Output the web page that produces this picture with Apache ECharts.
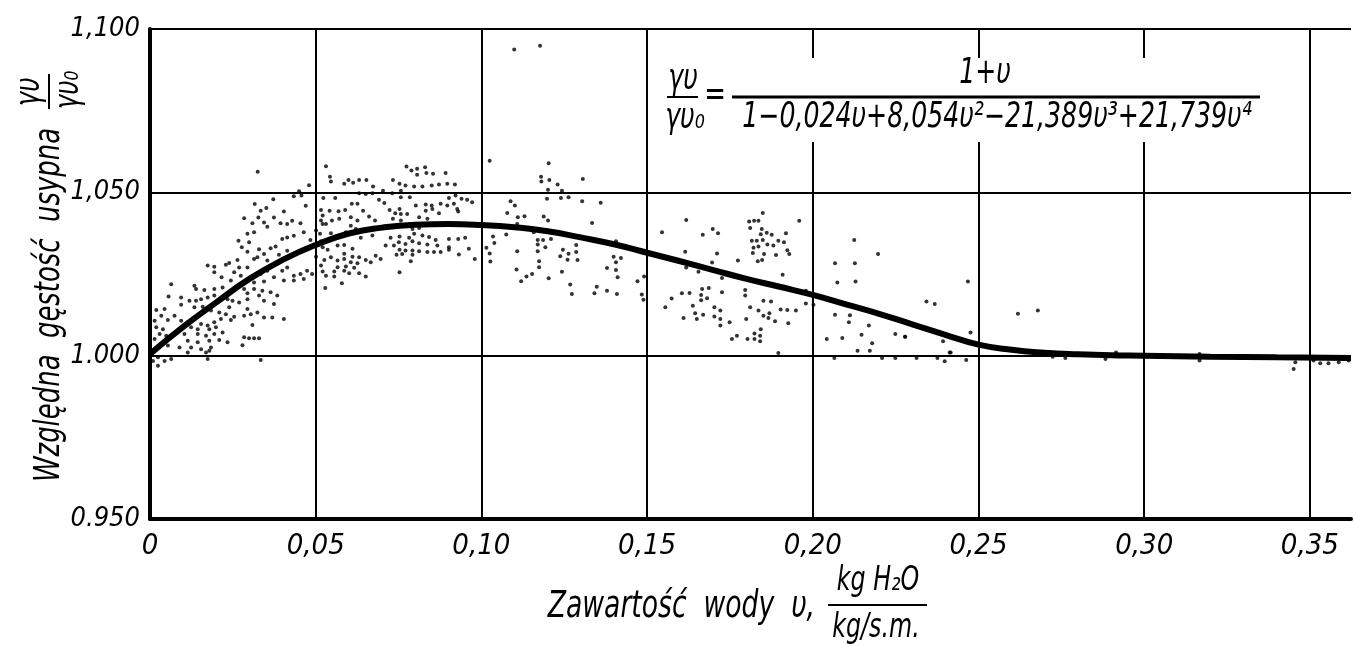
<!DOCTYPE html>
<html>
<head>
<meta charset="utf-8">
<title>Względna gęstość usypna</title>
<script src="https://cdn.jsdelivr.net/npm/echarts/dist/echarts.min.js"></script>
<style>
  html, body { margin: 0; padding: 0; background: #fff; overflow: hidden; }
  #main { width: 1354px; height: 646px; }
</style>
</head>
<body>
<div id="main"></div>
<script>
// tick labels as printed on the figure
var xTickLabels = ['0', '0,05', '0,10', '0,15', '0,20', '0,25', '0,30', '0,35'];
var yTickLabels = ['0.950', '1.000', '1,050', '1,100'];

// fitted curve
var curveU = [0, 0.01, 0.02, 0.03, 0.04, 0.05, 0.06, 0.07, 0.08, 0.09, 0.10, 0.11, 0.12, 0.13, 0.14, 0.15, 0.16, 0.17,
  0.18, 0.19, 0.20, 0.21, 0.22, 0.23, 0.24, 0.25, 0.26, 0.27, 0.28, 0.29, 0.30, 0.32, 0.34, 0.3624];
var curveY = [1.0005, 1.0088, 1.0163, 1.0235, 1.0293, 1.0339, 1.0374, 1.0392, 1.0401, 1.0403, 1.0400, 1.0393, 1.0381,
  1.0362, 1.0341, 1.0315, 1.0289, 1.0262, 1.0235, 1.0211, 1.0186, 1.0157, 1.0128, 1.0096, 1.0064, 1.0034, 1.0018,
  1.0009, 1.0004, 1.0001, 1.0000, 0.9997, 0.9995, 0.9993];

// measured points [u, gamma/gamma0]
var dotPoints = [
  // 0 - 0,05
  [0.0325,1.0563],[0.0480,1.0522],[0.0450,1.0503],[0.0434,1.0488],[0.0457,1.0490],[0.0316,1.0464],[0.0372,1.0479],
  [0.0470,1.0459],[0.0334,1.0444],[0.0351,1.0452],[0.0404,1.0441],[0.0284,1.0421],[0.0327,1.0423],[0.0374,1.0423],
  [0.0344,1.0408],[0.0394,1.0405],[0.0414,1.0403],[0.0429,1.0413],[0.0454,1.0405],[0.0309,1.0405],[0.0354,1.0395],
  [0.0464,1.0378],[0.0294,1.0373],[0.0314,1.0378],[0.0267,1.0352],[0.0299,1.0347],[0.0399,1.0357],[0.0414,1.0362],
  [0.0434,1.0367],[0.0484,1.0354],[0.0277,1.0332],[0.0294,1.0318],[0.0329,1.0326],[0.0344,1.0311],[0.0364,1.0329],
  [0.0379,1.0334],[0.0389,1.0309],[0.0414,1.0321],[0.0314,1.0296],[0.0324,1.0301],[0.0264,1.0293],[0.0354,1.0291],
  [0.0239,1.0284],[0.0269,1.0270],[0.0294,1.0270],[0.0174,1.0276],[0.0194,1.0272],[0.0229,1.0278],[0.0194,1.0255],
  [0.0254,1.0255],[0.0274,1.0245],[0.0334,1.0250],[0.0354,1.0260],[0.0399,1.0260],[0.0414,1.0270],[0.0434,1.0245],
  [0.0454,1.0250],[0.0474,1.0260],[0.0489,1.0250],[0.0216,1.0240],[0.0244,1.0230],[0.0294,1.0230],[0.0314,1.0224],
  [0.0344,1.0227],[0.0374,1.0240],[0.0404,1.0230],[0.0434,1.0230],[0.0464,1.0235],[0.0064,1.0219],[0.0134,1.0214],
  [0.0139,1.0204],[0.0164,1.0201],[0.0194,1.0204],[0.0219,1.0209],[0.0259,1.0211],[0.0284,1.0204],[0.0294,1.0191],
  [0.0314,1.0204],[0.0339,1.0199],[0.0364,1.0194],[0.0384,1.0184],[0.0329,1.0184],[0.0056,1.0181],[0.0094,1.0178],
  [0.0119,1.0168],[0.0139,1.0168],[0.0154,1.0173],[0.0174,1.0178],[0.0194,1.0184],[0.0234,1.0173],[0.0249,1.0168],
  [0.0269,1.0163],[0.0294,1.0173],[0.0344,1.0168],[0.0374,1.0158],[0.0094,1.0156],[0.0134,1.0148],[0.0159,1.0150],
  [0.0239,1.0148],[0.0294,1.0143],[0.0044,1.0143],[0.0019,1.0140],[0.0184,1.0138],[0.0209,1.0132],[0.0229,1.0127],
  [0.0284,1.0122],[0.0304,1.0127],[0.0324,1.0132],[0.0344,1.0117],[0.0369,1.0117],[0.0404,1.0112],[0.0254,1.0119],
  [0.0034,1.0122],[0.0074,1.0122],[0.0014,1.0107],[0.0054,1.0109],[0.0094,1.0107],[0.0114,1.0102],[0.0154,1.0097],
  [0.0174,1.0092],[0.0194,1.0102],[0.0214,1.0112],[0.0244,1.0109],[0.0309,1.0094],[0.0019,1.0087],[0.0039,1.0081],
  [0.0124,1.0087],[0.0144,1.0081],[0.0179,1.0081],[0.0199,1.0087],[0.0029,1.0066],[0.0049,1.0061],[0.0104,1.0066],
  [0.0144,1.0066],[0.0169,1.0061],[0.0194,1.0066],[0.0219,1.0071],[0.0014,1.0051],[0.0114,1.0046],[0.0144,1.0041],
  [0.0179,1.0046],[0.0209,1.0048],[0.0234,1.0041],[0.0284,1.0056],[0.0299,1.0053],[0.0314,1.0053],[0.0329,1.0053],
  [0.0054,1.0031],[0.0089,1.0025],[0.0124,1.0025],[0.0154,1.0020],[0.0184,1.0025],[0.0279,1.0032],[0.0014,1.0015],
  [0.0114,1.0010],[0.0169,1.0010],[0.0179,1.0015],[0.0024,0.9995],[0.0044,0.9984],[0.0064,0.9990],[0.0024,0.9969],
  [0.0174,0.9990],[0.0334,0.9987],[0.0009,0.9984],
  // 0,05 - 0,10
  [0.0531,1.0580],[0.0543,1.0548],[0.0546,1.0533],[0.0586,1.0526],[0.0599,1.0538],[0.0613,1.0529],[0.0631,1.0538],
  [0.0653,1.0538],[0.0673,1.0518],[0.0733,1.0538],[0.0753,1.0526],[0.0774,1.0579],[0.0789,1.0567],[0.0806,1.0572],
  [0.0830,1.0577],[0.0806,1.0554],[0.0834,1.0559],[0.0854,1.0557],[0.0892,1.0559],[0.0771,1.0521],[0.0797,1.0518],
  [0.0822,1.0518],[0.0850,1.0521],[0.0872,1.0524],[0.0897,1.0526],[0.0920,1.0524],[0.0631,1.0497],[0.0651,1.0495],
  [0.0671,1.0497],[0.0703,1.0505],[0.0731,1.0497],[0.0757,1.0505],[0.0922,1.0490],[0.0523,1.0483],[0.0559,1.0483],
  [0.0691,1.0477],[0.0757,1.0485],[0.0784,1.0485],[0.0902,1.0483],[0.0940,1.0480],[0.0957,1.0477],[0.0972,1.0470],
  [0.0609,1.0465],[0.0626,1.0465],[0.0707,1.0467],[0.0802,1.0460],[0.0832,1.0463],[0.0850,1.0460],[0.0877,1.0465],
  [0.0897,1.0460],[0.0917,1.0465],[0.0516,1.0446],[0.0542,1.0444],[0.0569,1.0442],[0.0589,1.0446],[0.0643,1.0444],
  [0.0723,1.0446],[0.0753,1.0449],[0.0832,1.0444],[0.0852,1.0449],[0.0927,1.0449],[0.0757,1.0434],[0.0776,1.0434],
  [0.0872,1.0436],[0.0930,1.0441],[0.0740,1.0436],[0.0521,1.0429],[0.0606,1.0424],[0.0661,1.0426],[0.0812,1.0424],
  [0.0516,1.0414],[0.0549,1.0414],[0.0571,1.0419],[0.0626,1.0414],[0.0679,1.0414],[0.0733,1.0419],[0.0757,1.0414],
  [0.0837,1.0419],[0.0521,1.0403],[0.0531,1.0403],[0.0606,1.0398],[0.0501,1.0383],[0.0513,1.0373],[0.0546,1.0375],
  [0.0591,1.0378],[0.0621,1.0388],[0.0671,1.0368],[0.0726,1.0361],[0.0753,1.0365],[0.0792,1.0388],[0.0812,1.0391],
  [0.0797,1.0373],[0.0822,1.0368],[0.0842,1.0363],[0.0782,1.0361],[0.0862,1.0354],[0.0902,1.0357],[0.0930,1.0357],
  [0.0951,1.0361],[0.0516,1.0350],[0.0636,1.0361],[0.0711,1.0337],[0.0736,1.0337],[0.0751,1.0347],[0.0771,1.0342],
  [0.0792,1.0350],[0.0812,1.0344],[0.0837,1.0340],[0.0867,1.0337],[0.0902,1.0332],[0.0962,1.0327],[0.0521,1.0332],
  [0.0566,1.0337],[0.0586,1.0339],[0.0611,1.0327],[0.0536,1.0324],[0.0753,1.0324],[0.0771,1.0322],[0.0792,1.0322],
  [0.0812,1.0320],[0.0837,1.0317],[0.0857,1.0317],[0.0877,1.0317],[0.0902,1.0324],[0.0932,1.0310],[0.0586,1.0312],
  [0.0501,1.0303],[0.0546,1.0301],[0.0611,1.0303],[0.0631,1.0301],[0.0681,1.0306],[0.0744,1.0309],[0.0761,1.0311],
  [0.0792,1.0309],[0.0696,1.0296],[0.0980,1.0296],[0.0526,1.0293],[0.0566,1.0291],[0.0586,1.0296],[0.0606,1.0286],
  [0.0626,1.0283],[0.0651,1.0293],[0.0666,1.0286],[0.0787,1.0289],[0.0516,1.0276],[0.0566,1.0271],[0.0591,1.0273],
  [0.0616,1.0269],[0.0521,1.0258],[0.0556,1.0258],[0.0586,1.0260],[0.0601,1.0252],[0.0631,1.0252],[0.0531,1.0245],
  [0.0556,1.0242],[0.0651,1.0242],[0.0753,1.0255],[0.0579,1.0222],[0.0529,1.0207],
  // 0,10 - 0,15
  [0.1025,1.0597],[0.1203,1.0589],[0.1180,1.0548],[0.1181,1.0533],[0.1205,1.0538],[0.1230,1.0524],[0.1306,1.0541],
  [0.1201,1.0508],[0.1243,1.0505],[0.1198,1.0480],[0.1240,1.0483],[0.1263,1.0485],[0.1304,1.0473],[0.1360,1.0468],
  [0.1088,1.0473],[0.1101,1.0460],[0.1078,1.0437],[0.1110,1.0424],[0.1130,1.0427],[0.1188,1.0426],[0.1201,1.0414],
  [0.1108,1.0403],[0.1334,1.0406],[0.1153,1.0388],[0.1158,1.0378],[0.1193,1.0380],[0.1210,1.0357],[0.1035,1.0365],
  [0.1075,1.0371],[0.1039,1.0345],[0.1170,1.0354],[0.1186,1.0354],[0.1406,1.0350],[0.1015,1.0330],[0.1170,1.0340],
  [0.1193,1.0332],[0.1286,1.0339],[0.1025,1.0313],[0.1108,1.0320],[0.1170,1.0320],[0.1246,1.0324],[0.1263,1.0312],
  [0.1286,1.0317],[0.1238,1.0304],[0.1260,1.0294],[0.1290,1.0293],[0.1399,1.0303],[0.1421,1.0299],[0.1027,1.0288],
  [0.1174,1.0289],[0.1406,1.0286],[0.1174,1.0271],[0.1106,1.0264],[0.1243,1.0257],[0.1379,1.0268],[0.1406,1.0262],
  [0.1153,1.0250],[0.1136,1.0242],[0.1411,1.0240],[0.1203,1.0237],[0.1120,1.0228],[0.1491,1.0242],[0.1471,1.0228],
  [0.1268,1.0218],[0.1348,1.0211],[0.1379,1.0199],[0.1273,1.0189],[0.1341,1.0191],[0.1409,1.0189],[0.1484,1.0187],
  [0.1489,1.0171],
  // 0,15 - 0,20
  [0.1618,1.0415],[0.1545,1.0378],[0.1668,1.0370],[0.1698,1.0388],[0.1714,1.0375],[0.1849,1.0437],[0.1808,1.0411],
  [0.1823,1.0413],[0.1836,1.0413],[0.1959,1.0413],[0.1811,1.0391],[0.1846,1.0388],[0.1843,1.0372],[0.1861,1.0376],
  [0.1876,1.0370],[0.1919,1.0375],[0.1816,1.0352],[0.1831,1.0352],[0.1849,1.0354],[0.1863,1.0340],[0.1881,1.0337],
  [0.1896,1.0352],[0.1913,1.0347],[0.1836,1.0334],[0.1821,1.0330],[0.1923,1.0323],[0.1615,1.0318],[0.1711,1.0313],
  [0.1819,1.0314],[0.1853,1.0311],[0.1889,1.0308],[0.1929,1.0311],[0.1834,1.0289],[0.1847,1.0293],[0.1696,1.0285],
  [0.1774,1.0291],[0.1618,1.0270],[0.1655,1.0257],[0.1909,1.0248],[0.1726,1.0238],[0.1979,1.0199],[0.1796,1.0201],
  [0.1666,1.0204],[0.1686,1.0207],[0.1605,1.0191],[0.1628,1.0192],[0.1726,1.0194],[0.1796,1.0184],[0.1663,1.0186],
  [0.1681,1.0176],[0.1574,1.0175],[0.1663,1.0170],[0.1851,1.0168],[0.1874,1.0166],[0.1979,1.0160],[0.1638,1.0153],
  [0.1555,1.0148],[0.1703,1.0148],[0.1811,1.0148],[0.1903,1.0141],[0.1923,1.0140],[0.1949,1.0138],[0.1721,1.0138],
  [0.1836,1.0138],[0.1645,1.0130],[0.1669,1.0125],[0.1703,1.0120],[0.1851,1.0122],[0.1869,1.0130],[0.1610,1.0115],
  [0.1650,1.0112],[0.1721,1.0112],[0.1799,1.0112],[0.1866,1.0115],[0.1886,1.0105],[0.1749,1.0102],[0.1926,1.0099],
  [0.1721,1.0092],[0.1843,1.0081],[0.1824,1.0068],[0.1841,1.0061],[0.1771,1.0061],[0.1756,1.0051],[0.1803,1.0051],
  [0.1824,1.0051],[0.1841,1.0044],[0.1896,1.0008],
  // 0,20 - 0,25
  [0.2125,1.0354],[0.2197,1.0311],[0.2067,1.0283],[0.2127,1.0283],[0.2074,1.0224],[0.2129,1.0227],[0.2468,1.0227],
  [0.2343,1.0166],[0.2368,1.0158],[0.2002,1.0156],[0.2067,1.0125],[0.2112,1.0124],[0.2109,1.0102],[0.2169,1.0092],
  [0.2476,1.0071],[0.2042,1.0051],[0.2089,1.0054],[0.2147,1.0064],[0.2249,1.0066],[0.2279,1.0058],[0.2393,1.0044],
  [0.2179,1.0038],[0.2135,1.0015],[0.2172,1.0015],[0.2416,1.0010],[0.2065,0.9993],[0.2209,0.9993],[0.2249,0.9993],
  [0.2313,0.9993],[0.2376,0.9993],[0.2398,0.9983],[0.2463,0.9987],[0.2278,1.0058],[0.2413,1.0010],
  // 0,25 - 0,36
  [0.2619,1.0128],[0.2679,1.0138],[0.2724,0.9997],[0.2762,0.9993],[0.2883,0.9990],[0.2915,1.0010],[0.3167,1.0005],
  [0.3167,0.9985],[0.3451,0.9959],[0.3456,0.9980],[0.3511,0.9985],[0.3531,0.9977],[0.3556,0.9977],[0.3587,0.9980],
  [0.3617,0.9985],
  // faint stray marks
  [0.1099,1.0937],[0.1177,1.0949]
];

var FONT = "'DejaVu Sans Condensed', 'Liberation Sans Narrow', 'DejaVu Sans', sans-serif";
var SX = 0.8; // squeeze text horizontally, like the narrow drafting lettering

function label(x, y, s, size, align) {
  return {
    type: 'text', x: x, y: y, z: 120, scaleX: SX,
    style: {
      text: s, fontFamily: FONT, fontStyle: 'italic', fontSize: size,
      fill: '#000', align: align || 'center', verticalAlign: 'middle'
    }
  };
}
function bar(x1, y1, x2, y2, w) {
  return {
    type: 'line', z: 120,
    shape: { x1: x1, y1: y1, x2: x2, y2: y2 },
    style: { stroke: '#000', lineWidth: w || 2 }
  };
}

var curveData = curveU.map(function (u, i) { return [u, curveY[i]]; });

var chart = echarts.init(document.getElementById('main'));
chart.setOption({
  animation: false,
  backgroundColor: '#fff',
  grid: { left: 150, right: 0, top: 29, bottom: 127 },
  xAxis: {
    type: 'value', min: 0, max: 0.3624, interval: 0.05,
    axisLine: { show: true, onZero: false, lineStyle: { color: '#000', width: 4 } },
    axisTick: { show: false },
    splitLine: { show: true, showMaxLine: false, lineStyle: { color: '#000', width: 2 } },
    axisLabel: {
      margin: 13, color: '#000', fontFamily: FONT, fontStyle: 'italic', fontSize: 29,
      formatter: function (v) {
        var i = Math.round(v / 0.05);
        return Math.abs(v - i * 0.05) < 1e-6 && xTickLabels[i] !== undefined ? xTickLabels[i] : '';
      }
    }
  },
  yAxis: {
    type: 'value', min: 0.95, max: 1.10, interval: 0.05,
    axisLine: { show: true, lineStyle: { color: '#000', width: 4 } },
    axisTick: { show: false },
    splitLine: { show: true, lineStyle: { color: '#000', width: 2 } },
    axisLabel: {
      margin: 10, color: '#000', fontFamily: FONT, fontStyle: 'italic', fontSize: 27,
      formatter: function (v) {
        var i = Math.round((v - 0.95) / 0.05);
        return yTickLabels[i] !== undefined ? yTickLabels[i] : '';
      }
    }
  },
  series: [
    {
      type: 'scatter', data: dotPoints, symbol: 'circle', symbolSize: 4,
      itemStyle: { color: '#000' }, z: 3
    },
    {
      type: 'line', data: curveData, smooth: true, showSymbol: false,
      lineStyle: { color: '#000', width: 6 }, z: 4
    }
  ],
  graphic: [
    // white box behind the formula
    { type: 'rect', z: 100, shape: { x: 655, y: 58, width: 615, height: 84 }, style: { fill: '#fff' } },
    label(683, 80, 'γυ', 35),
    bar(667, 97, 698, 97, 2),
    label(685, 119, 'γυ₀', 35),
    label(715, 96, '=', 36),
    bar(732, 97, 1260, 97, 3),
    label(985, 74, '1+υ', 35),
    label(997, 118, '1−0,024υ+8,054υ²−21,389υ³+21,739υ⁴', 35),
    // x axis title
    label(815, 607, 'Zawartość  wody  υ,', 37, 'right'),
    label(878, 581, 'kg H₂O', 33),
    bar(828, 605, 927, 605, 2),
    label(876, 628, 'kg/s.m.', 33),
    // y axis title (rotated)
    {
      type: 'group', x: 50, y: 305, rotation: Math.PI / 2,
      children: [
        label(0, 0, 'Względna  gęstość  usypna', 36),
        label(213, -20, 'γυ', 34),
        bar(196, -1, 231, -1, 2),
        label(215, 19, 'γυ₀', 34)
      ]
    }
  ]
});

window.addEventListener('resize', function () { chart.resize(); });
</script>
</body>
</html>
